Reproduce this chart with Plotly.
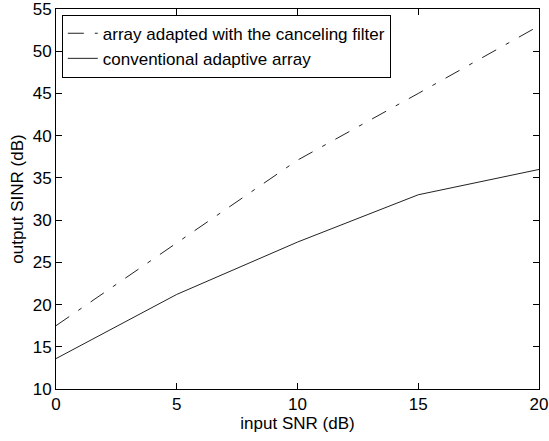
import plotly.graph_objects as go

x_snr = [0, 5, 10, 15, 20]
sinr_cancel = [17.5, 27.3, 37.1, 45.0, 53.0]
sinr_conv = [13.6, 21.2, 27.4, 33.0, 36.0]
name_cancel = "array adapted with the canceling filter"
name_conv = "conventional adaptive array"
x_ticks = [0, 5, 10, 15, 20]
y_ticks = [10, 15, 20, 25, 30, 35, 40, 45, 50, 55]

FONT = "Liberation Sans, Arial, sans-serif"
FS = 17

fig = go.Figure()
fig.add_trace(go.Scatter(x=x_snr, y=sinr_cancel, mode="lines", name=name_cancel,
                         line=dict(color="#222222", width=1, dash="16px,11px,4px,11px")))
fig.add_trace(go.Scatter(x=x_snr, y=sinr_conv, mode="lines", name=name_conv,
                         line=dict(color="#222222", width=1)))

axis_common = dict(showgrid=False, zeroline=False, showline=True, linecolor="black",
                   linewidth=1, mirror="ticks", ticks="inside", ticklen=6,
                   tickcolor="black", automargin=False, ticklabeloverflow="allow",
                   tickfont=dict(family=FONT, size=FS, color="black"))

fig.update_xaxes(range=[0, 20], tickvals=x_ticks, **axis_common,
                 title=dict(text="input SNR (dB)", font=dict(family=FONT, size=FS, color="black"), standoff=2))
fig.update_yaxes(range=[10, 55], tickvals=y_ticks, **axis_common,
                 title=dict(text="output SINR (dB)", font=dict(family=FONT, size=FS, color="black"), standoff=4))

fig.update_layout(
    width=549, height=441,
    margin=dict(l=56, r=10, t=9, b=52),
    plot_bgcolor="white", paper_bgcolor="white",
    font=dict(family=FONT, size=FS, color="black"),
    showlegend=True,
    legend=dict(x=0.012, y=0.985, xanchor="left", yanchor="top",
                bordercolor="black", borderwidth=1, bgcolor="white",
                font=dict(family=FONT, size=FS, color="black"),
                tracegroupgap=0, entrywidth=305, entrywidthmode="pixels"),
)

fig.write_html("out.html",
               config={"displayModeBar": False},
               post_script="document.body.style.margin='0';document.body.style.overflow='hidden';")
